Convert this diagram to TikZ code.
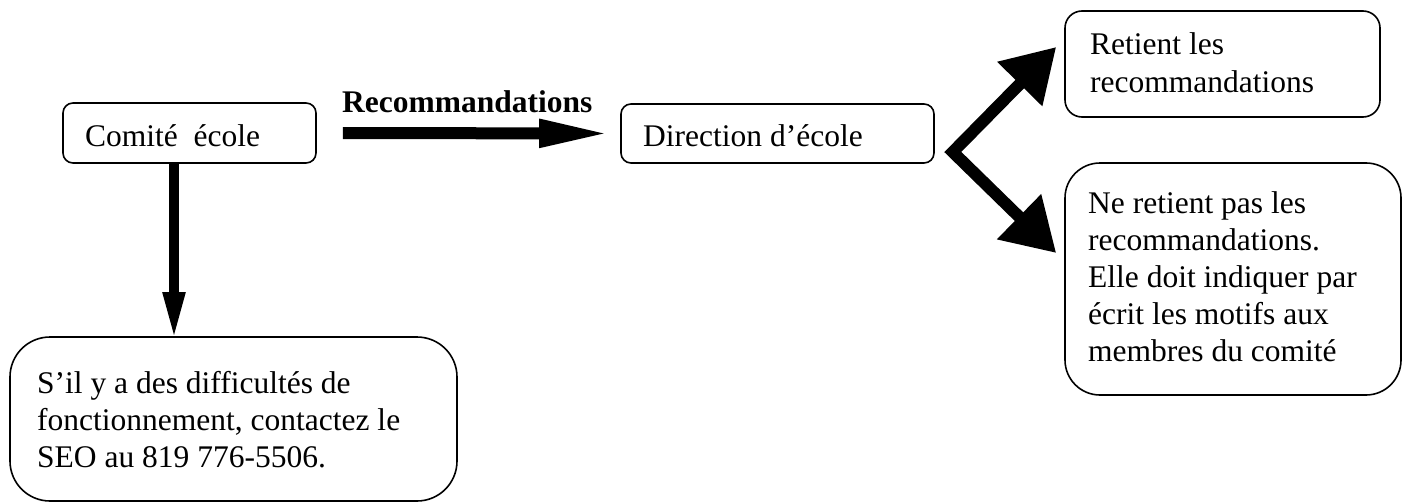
\documentclass[tikz,border=0pt]{standalone}
\usepackage{fontspec}
\setmainfont{Liberation Serif}
\usetikzlibrary{arrows.meta,calc}
\begin{document}
\begin{tikzpicture}[x=1pt,y=-1pt,
  box/.style={draw=black,line width=1.6pt,rectangle,inner sep=0pt},
  txt/.style={anchor=base west,inner sep=0pt,font=\fontsize{31.5}{37}\selectfont},
  bigarrow/.style={line width=12pt,-{Triangle[width=25.6pt,length=72pt]}},
  vertarrow/.style={line width=10pt,-{Triangle[width=20pt,length=49pt]}},
  chevron/.style={line width=12pt,miter limit=10,{Triangle[width=60pt,length=52pt]}-{Triangle[width=60pt,length=52pt]}}]
\useasboundingbox (0,0) rectangle (1404,503);
% boxes
\node[box,rounded corners=10pt,minimum width=253pt,minimum height=60pt] (com) at (189.5,133) {};
\node[box,rounded corners=10pt,minimum width=313pt,minimum height=59pt] (dir) at (777.5,133.5) {};
\node[box,rounded corners=17pt,minimum width=315pt,minimum height=106pt] (ret) at (1222.5,64) {};
\node[box,rounded corners=35pt,minimum width=336pt,minimum height=232pt] (ne) at (1233,279) {};
\node[box,rounded corners=40pt,minimum width=447pt,minimum height=164pt] (seo) at (233.5,419) {};
% texts
\node[txt] (comt) at (85,146) {Comité\ \ école};
\node[txt] (dirt) at (643,146) {Direction d’école};
\node[txt] (rett) at (1090,55) {\begin{tabular}[t]{@{}l@{}}Retient les\\recommandations\end{tabular}};
\node[txt] (net) at (1088,213) {\begin{tabular}[t]{@{}l@{}}Ne retient pas les\\recommandations.\\Elle doit indiquer par\\écrit les motifs aux\\membres du comité\end{tabular}};
\node[txt] (seot) at (37,393) {\begin{tabular}[t]{@{}l@{}}S’il y a des difficultés de\\fonctionnement, contactez le\\SEO au 819 776-5506.\end{tabular}};
\node[txt,font=\fontsize{31.5}{37}\selectfont\bfseries] (rec) at (342,112) {Recommandations};
% connectors
\draw[bigarrow] ([xshift=26pt]com.east) -- ([xshift=-9pt]dir.west);
\coordinate (vs) at ($(com.south)+(-15.5,0)$);
\coordinate (ve) at ($(vs |- seo.north)+(0,5)$);
\draw[vertarrow] (vs) -- (ve);
\coordinate (v) at ($(dir.east)+(18,18.5)$);
\coordinate (up) at ($(ret.west)+(-8,-17)$);
\coordinate (dn) at ($(ne.west)+(-8,-26)$);
\draw[chevron] (up) -- (v) -- (dn);
\end{tikzpicture}
\end{document}
